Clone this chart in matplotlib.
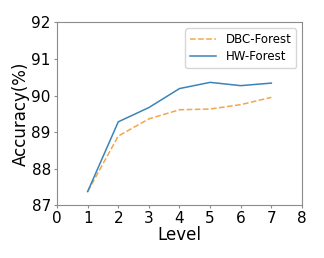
import matplotlib
matplotlib.use("Agg")
import matplotlib.pyplot as plt

levels = [1, 2, 3, 4, 5, 6, 7]
dbc_forest = [87.37, 88.89, 89.36, 89.61, 89.63, 89.75, 89.95]
hw_forest = [87.37, 89.28, 89.67, 90.19, 90.36, 90.27, 90.34]

fig = plt.figure(figsize=(3.24, 2.58), dpi=100)
ax = fig.add_axes([0.176, 0.205, 0.756, 0.708])

ax.plot(levels, dbc_forest, '--', color='#f5a54a', linewidth=1.1, label='DBC-Forest')
ax.plot(levels, hw_forest, '-', color='#3b84b8', linewidth=1.1, label='HW-Forest')

ax.set_xlim(0, 8)
ax.set_ylim(87, 92)
ax.set_xticks(range(0, 9))
ax.set_yticks(range(87, 93))
for s in ax.spines.values():
    s.set_color('#8c8c8c')
ax.tick_params(labelsize=11, length=2.5, pad=2, color='#8c8c8c')
ax.set_xlabel('Level', fontsize=12, labelpad=0)
ax.set_ylabel('Accuracy(%)', fontsize=12, labelpad=1)
ax.legend(loc='upper right', fontsize=8.5, labelspacing=0.35, handlelength=2.2)

fig.savefig('out.png', dpi=100)
